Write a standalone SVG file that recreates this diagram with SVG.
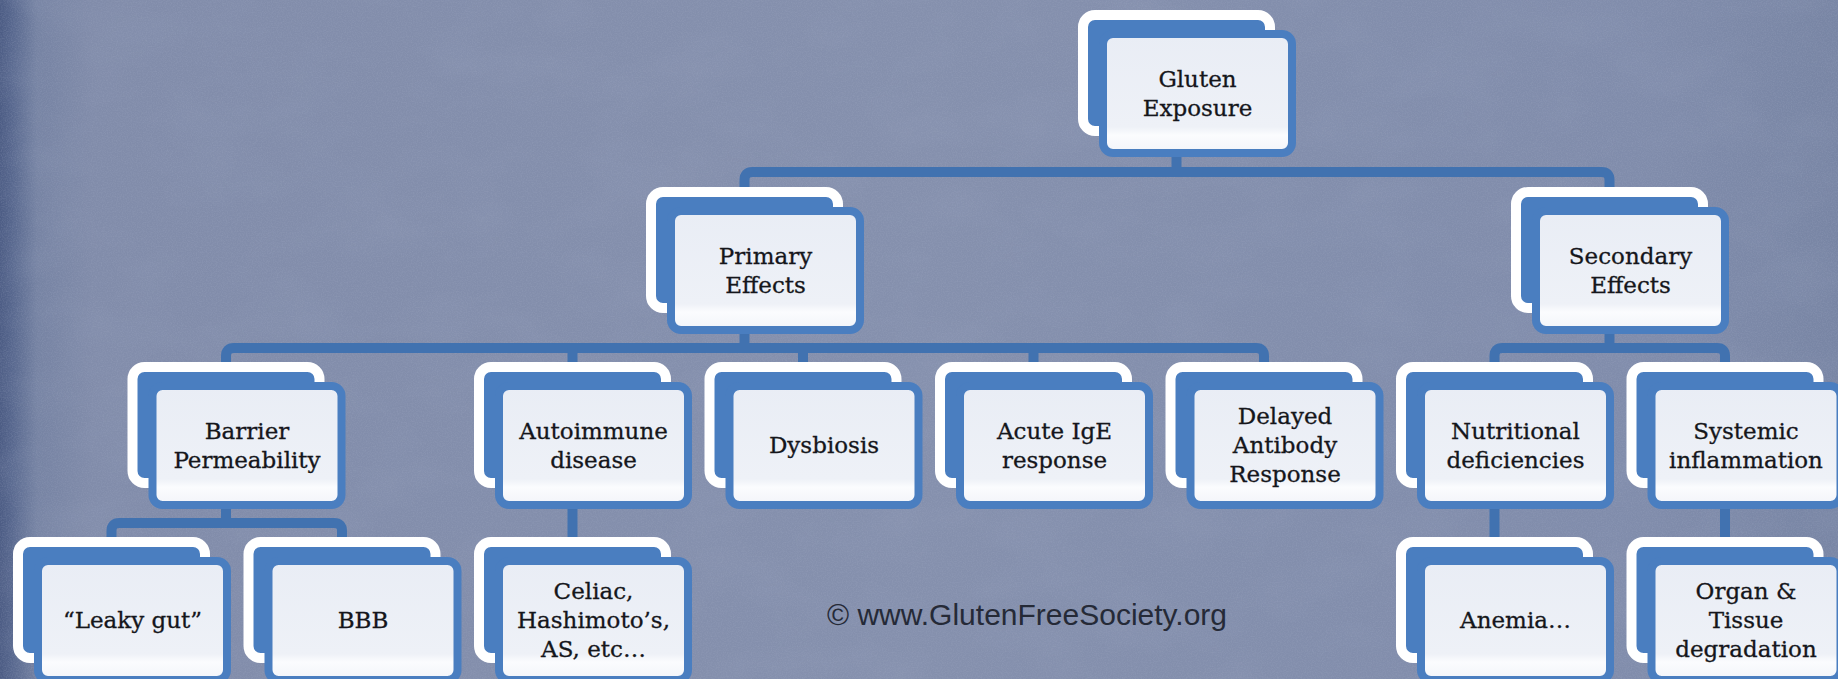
<svg xmlns="http://www.w3.org/2000/svg" width="1838" height="679" viewBox="0 0 1838 679">
  <defs>
    <style>
      .back { fill: #4a7ec0; stroke: #ffffff; stroke-width: 10; }
      .front { fill: url(#paper); stroke: #4a7ec0; stroke-width: 8; }
      .label { font-family: "DejaVu Serif", "Liberation Serif", serif; font-size: 23px; fill: #15161b; stroke: #15161b; stroke-width: 0.3; text-anchor: middle; }
      .wire { fill: none; stroke: #4172b0; stroke-width: 10; stroke-linejoin: round; }
      .credit { font-family: "Liberation Sans", Arial, sans-serif; font-size: 30px; fill: #252a37; }
    </style>
    <linearGradient id="paper" x1="0" y1="0" x2="0" y2="1">
      <stop offset="0" stop-color="#e9edf5"/>
      <stop offset="0.78" stop-color="#eef1f7"/>
      <stop offset="0.85" stop-color="#fbfcfe"/>
      <stop offset="1" stop-color="#f2f4f9"/>
    </linearGradient>
    <linearGradient id="wall" x1="0" y1="0" x2="1" y2="0">
      <stop offset="0" stop-color="#4c5c84"/>
      <stop offset="0.006" stop-color="#56668d"/>
      <stop offset="0.02" stop-color="#7683a3"/>
      <stop offset="0.05" stop-color="#818caa"/>
      <stop offset="0.5" stop-color="#8590ad"/>
      <stop offset="0.9" stop-color="#808cab"/>
      <stop offset="1" stop-color="#7885a4"/>
    </linearGradient>
    <filter id="mottle" x="0" y="0" width="100%" height="100%">
      <feTurbulence type="fractalNoise" baseFrequency="0.012 0.02" numOctaves="3" seed="7"/>
      <feColorMatrix type="matrix" values="0 0 0 0 0.35  0 0 0 0 0.4  0 0 0 0 0.55  0 0 0 1.4 -0.55"/>
    </filter>
    <filter id="grain" x="0" y="0" width="100%" height="100%">
      <feTurbulence type="fractalNoise" baseFrequency="0.8" numOctaves="2" seed="3"/>
      <feColorMatrix type="matrix" values="0 0 0 0 0.4  0 0 0 0 0.45  0 0 0 0 0.6  0 0 0 1.6 -0.6"/>
    </filter>
  </defs>

  <!-- textured slate backdrop -->
  <rect width="1838" height="679" fill="url(#wall)"/>
  <rect width="1838" height="679" filter="url(#mottle)" opacity="0.18"/>
  <rect width="1838" height="679" filter="url(#grain)" opacity="0.25"/>

  <!-- elbow connectors, drawn under the cards -->
  <g id="connectors">
    <path class="wire" d="M1176.5,130 V172"/>
    <path class="wire" d="M744.5,192 V180 Q744.5,172 752.5,172 H1601.5 Q1609.5,172 1609.5,180 V192"/>

    <path class="wire" d="M744.5,300 V348"/>
    <path class="wire" d="M226,367 V356 Q226,348 234,348 H1256 Q1264,348 1264,356 V367"/>
    <path class="wire" d="M572.5,348 V367 M803,348 V367 M1033.5,348 V367"/>

    <path class="wire" d="M1609.5,300 V348"/>
    <path class="wire" d="M1494.5,367 V356 Q1494.5,348 1502.5,348 H1717 Q1725,348 1725,356 V367"/>

    <path class="wire" d="M226,480 V523"/>
    <path class="wire" d="M111.5,542 V531 Q111.5,523 119.5,523 H334 Q342,523 342,531 V542"/>

    <path class="wire" d="M572.5,480 V542"/>
    <path class="wire" d="M1494.5,480 V542"/>
    <path class="wire" d="M1725,480 V542"/>
  </g>

  <g id="gluten-exposure" transform="translate(1078,10)">
    <rect class="back" x="5" y="5" width="187" height="116" rx="12"/>
    <rect class="front" x="25" y="24" width="189" height="119" rx="10"/>
    <text class="label" x="119.5" y="76.5">Gluten</text>
    <text class="label" x="119.5" y="105.5">Exposure</text>
  </g>

  <g id="primary-effects" transform="translate(646,187)">
    <rect class="back" x="5" y="5" width="187" height="116" rx="12"/>
    <rect class="front" x="25" y="24" width="189" height="119" rx="10"/>
    <text class="label" x="119.5" y="76.5">Primary</text>
    <text class="label" x="119.5" y="105.5">Effects</text>
  </g>

  <g id="secondary-effects" transform="translate(1511,187)">
    <rect class="back" x="5" y="5" width="187" height="116" rx="12"/>
    <rect class="front" x="25" y="24" width="189" height="119" rx="10"/>
    <text class="label" x="119.5" y="76.5">Secondary</text>
    <text class="label" x="119.5" y="105.5">Effects</text>
  </g>

  <g id="barrier-permeability" transform="translate(127.5,362)">
    <rect class="back" x="5" y="5" width="187" height="116" rx="12"/>
    <rect class="front" x="25" y="24" width="189" height="119" rx="10"/>
    <text class="label" x="119.5" y="76.5">Barrier</text>
    <text class="label" x="119.5" y="105.5">Permeability</text>
  </g>

  <g id="autoimmune-disease" transform="translate(474,362)">
    <rect class="back" x="5" y="5" width="187" height="116" rx="12"/>
    <rect class="front" x="25" y="24" width="189" height="119" rx="10"/>
    <text class="label" x="119.5" y="76.5">Autoimmune</text>
    <text class="label" x="119.5" y="105.5">disease</text>
  </g>

  <g id="dysbiosis" transform="translate(704.5,362)">
    <rect class="back" x="5" y="5" width="187" height="116" rx="12"/>
    <rect class="front" x="25" y="24" width="189" height="119" rx="10"/>
    <text class="label" x="119.5" y="91">Dysbiosis</text>
  </g>

  <g id="acute-ige" transform="translate(935,362)">
    <rect class="back" x="5" y="5" width="187" height="116" rx="12"/>
    <rect class="front" x="25" y="24" width="189" height="119" rx="10"/>
    <text class="label" x="119.5" y="76.5">Acute IgE</text>
    <text class="label" x="119.5" y="105.5">response</text>
  </g>

  <g id="delayed-antibody" transform="translate(1165.5,362)">
    <rect class="back" x="5" y="5" width="187" height="116" rx="12"/>
    <rect class="front" x="25" y="24" width="189" height="119" rx="10"/>
    <text class="label" x="119.5" y="62">Delayed</text>
    <text class="label" x="119.5" y="91">Antibody</text>
    <text class="label" x="119.5" y="120">Response</text>
  </g>

  <g id="nutritional-deficiencies" transform="translate(1396,362)">
    <rect class="back" x="5" y="5" width="187" height="116" rx="12"/>
    <rect class="front" x="25" y="24" width="189" height="119" rx="10"/>
    <text class="label" x="119.5" y="76.5">Nutritional</text>
    <text class="label" x="119.5" y="105.5">deficiencies</text>
  </g>

  <g id="systemic-inflammation" transform="translate(1626.5,362)">
    <rect class="back" x="5" y="5" width="187" height="116" rx="12"/>
    <rect class="front" x="25" y="24" width="189" height="119" rx="10"/>
    <text class="label" x="119.5" y="76.5">Systemic</text>
    <text class="label" x="119.5" y="105.5">inflammation</text>
  </g>

  <g id="leaky-gut" transform="translate(13,537)">
    <rect class="back" x="5" y="5" width="187" height="116" rx="12"/>
    <rect class="front" x="25" y="24" width="189" height="119" rx="10"/>
    <text class="label" x="119.5" y="91">“Leaky gut”</text>
  </g>

  <g id="bbb" transform="translate(243.5,537)">
    <rect class="back" x="5" y="5" width="187" height="116" rx="12"/>
    <rect class="front" x="25" y="24" width="189" height="119" rx="10"/>
    <text class="label" x="119.5" y="91">BBB</text>
  </g>

  <g id="celiac" transform="translate(474,537)">
    <rect class="back" x="5" y="5" width="187" height="116" rx="12"/>
    <rect class="front" x="25" y="24" width="189" height="119" rx="10"/>
    <text class="label" x="119.5" y="62">Celiac,</text>
    <text class="label" x="119.5" y="91">Hashimoto’s,</text>
    <text class="label" x="119.5" y="120">AS, etc…</text>
  </g>

  <g id="anemia" transform="translate(1396,537)">
    <rect class="back" x="5" y="5" width="187" height="116" rx="12"/>
    <rect class="front" x="25" y="24" width="189" height="119" rx="10"/>
    <text class="label" x="119.5" y="91">Anemia…</text>
  </g>

  <g id="organ-tissue" transform="translate(1626.5,537)">
    <rect class="back" x="5" y="5" width="187" height="116" rx="12"/>
    <rect class="front" x="25" y="24" width="189" height="119" rx="10"/>
    <text class="label" x="119.5" y="62">Organ &amp;</text>
    <text class="label" x="119.5" y="91">Tissue</text>
    <text class="label" x="119.5" y="120">degradation</text>
  </g>

  <text class="credit" x="827" y="625">© www.GlutenFreeSociety.org</text>
</svg>
